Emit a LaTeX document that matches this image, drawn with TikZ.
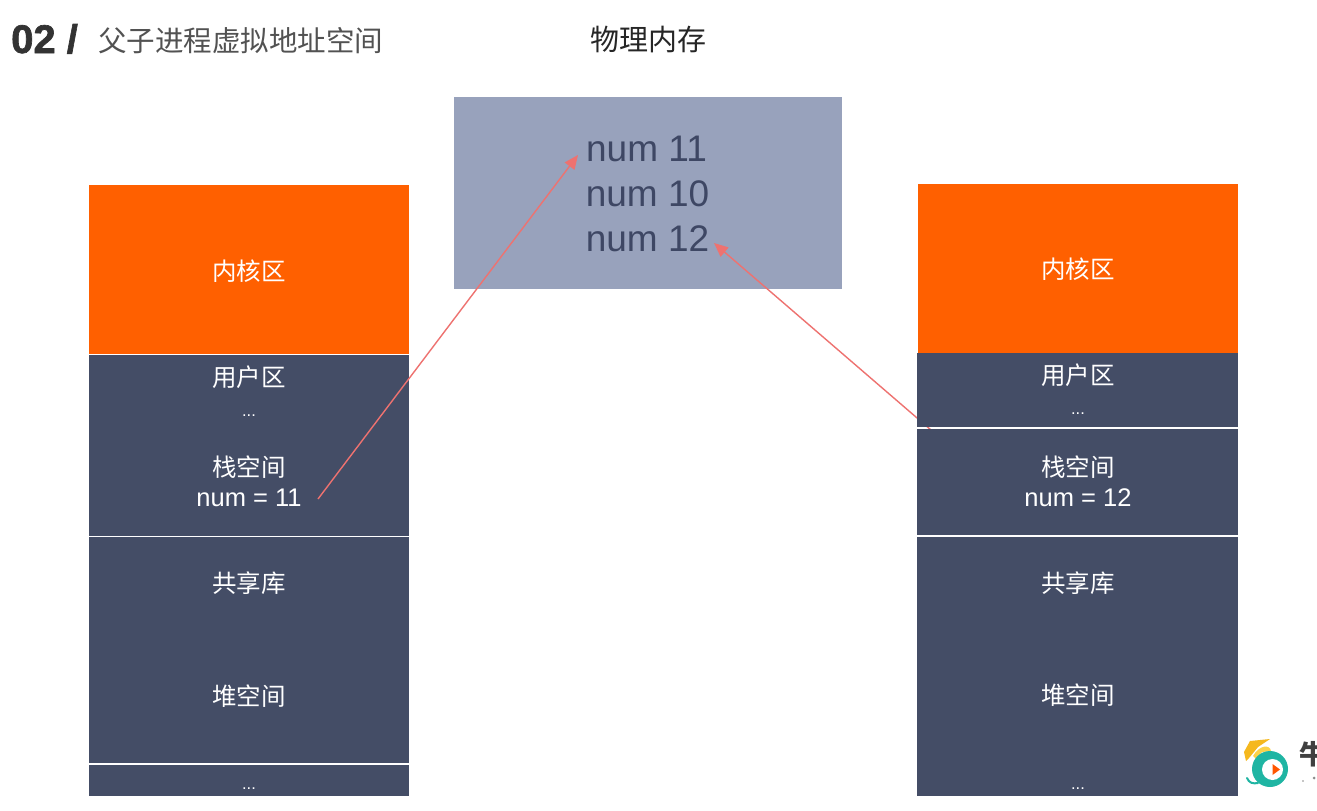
\documentclass[tikz,border=0pt]{standalone}
\usepackage{fontspec}
\setmainfont{Liberation Sans}
\newfontfamily\cjk{Noto Sans CJK SC}
\newfontfamily\headfont{Liberation Sans Bold}[FakeBold=1.6]
\usetikzlibrary{arrows.meta}
\definecolor{darkblock}{HTML}{444D66}
\definecolor{orangeblock}{HTML}{FF6000}
\definecolor{memblock}{HTML}{98A2BC}
\definecolor{memtext}{HTML}{3E4764}
\definecolor{arrowred}{HTML}{EE7270}
\definecolor{titletext}{HTML}{333333}
\definecolor{logoteal}{HTML}{1FB5A3}
\definecolor{logocap}{HTML}{F5B81E}
\definecolor{logocapb}{HTML}{FBD24A}
\tikzset{
  blockbox/.style={draw=none,inner sep=0pt,outer sep=0pt,anchor=north west},
  darkbox/.style={blockbox,fill=darkblock},
  orangebox/.style={blockbox,fill=orangeblock},
  memlabel/.style={text=memtext,font=\fontsize{37}{37}\selectfont,inner sep=0pt},
  zonelabel/.style={text=white,font=\fontsize{24.5}{24.5}\selectfont\cjk,inner sep=0pt},
  numlabel/.style={text=white,font=\fontsize{25.5}{25.5}\selectfont,inner sep=0pt},
  dotlabel/.style={text=white,font=\fontsize{16.5}{16.5}\selectfont,inner sep=0pt},
  redarrow/.style={draw=arrowred,line width=1.4pt,-{Triangle[length=14pt,width=12pt,fill=arrowred]}},
}
\begin{document}
\begin{tikzpicture}[x=1pt,y=-1pt]
\useasboundingbox (0,0) rectangle (1317,811);
\fill[white] (0,0) rectangle (1317,811);
% title
\node[anchor=base west,inner sep=0pt,text=titletext,font=\fontsize{40}{40}\selectfont\headfont] (num) at (11,53) {02 /};
\node[anchor=base west,inner sep=0pt,text=titletext!85,font=\fontsize{28.5}{28.5}\selectfont\cjk] (title) at (98,51) {父子进程虚拟地址空间};
\node[inner sep=0pt,text=black!85,font=\fontsize{29}{29}\selectfont\cjk] (memtitle) at (648,40) {物理内存};
% memory
\node[blockbox,fill=memblock,minimum width=388pt,minimum height=192pt] (mem) at (454,97) {};
\node[memlabel] (m11) at (646.5,149) {num 11};
\node[memlabel] (m10) at (647.5,194) {num 10};
\node[memlabel] (m12) at (647.5,239) {num 12};
% right arrow drawn under right column
\coordinate (rstart) at (931,430);
\coordinate (rend) at (714,243);
\draw[redarrow] (rstart) -- (rend);
% left column
\node[orangebox,minimum width=320pt,minimum height=168.5pt] (lk) at (89,185) {};
\node[darkbox,minimum width=320pt,minimum height=180.5pt] (lu) at (89,355) {};
\node[darkbox,minimum width=320pt,minimum height=226pt] (ls) at (89,537) {};
\node[darkbox,minimum width=320pt,minimum height=31pt] (ld) at (89,765) {};
% right column
\node[orangebox,minimum width=320pt,minimum height=170pt] (rk) at (918,184) {};
\node[darkbox,minimum width=321pt,minimum height=73.5pt] (ru) at (917,353) {};
\node[darkbox,minimum width=321pt,minimum height=106pt] (rs) at (917,429) {};
\node[darkbox,minimum width=321pt,minimum height=259pt] (rh) at (917,537) {};
% left labels
\node[zonelabel] (l1) at (249,271) {内核区};
\node[zonelabel] (l2) at (249,377) {用户区};
\node[dotlabel] (l3) at (249,416) {...};
\node[zonelabel] (l4) at (249,467) {栈空间};
\node[numlabel] (l5) at (249,498) {num = 11};
\node[zonelabel] (l6) at (249,583) {共享库};
\node[zonelabel] (l7) at (249,696) {堆空间};
\node[dotlabel] (l8) at (249,789) {...};
% right labels
\node[zonelabel] (r1) at (1078,269) {内核区};
\node[zonelabel] (r2) at (1078,375) {用户区};
\node[dotlabel] (r3) at (1078,414) {...};
\node[zonelabel] (r4) at (1078,467) {栈空间};
\node[numlabel] (r5) at (1078,498) {num = 12};
\node[zonelabel] (r6) at (1078,583) {共享库};
\node[zonelabel] (r7) at (1078,695) {堆空间};
\node[dotlabel] (r8) at (1078,789) {...};
% left arrow
\coordinate (lstart) at (318,499);
\coordinate (lend) at (578,155);
\draw[redarrow] (lstart) -- (lend);
% logo
\fill[logocap] (1244,752) -- (1250,741) -- (1270,739) -- (1258,747) -- (1249,758) -- (1246,761) -- cycle;
\fill[logocapb] (1253,756) .. controls (1259,745) and (1270,744) .. (1271,751) -- (1262,752) -- (1256,759) -- cycle;
\fill[logoteal] (1270,769) circle (18pt);
\draw[logoteal,line width=2pt,line cap=round] (1247,778) .. controls (1249,783) and (1253,784) .. (1258,783);
\fill[white] (1272.5,769.5) circle (10.5pt);
\fill[orangeblock!90!red] (1272.5,764) -- (1280,769.5) -- (1272.5,775) -- cycle;
\node[anchor=west,inner sep=0pt,text=black!75,font=\fontsize{27}{27}\selectfont\cjk\bfseries] (brand) at (1299,754) {牛};
\fill[black!45] (1303,781) circle (.8pt);
\fill[black!45] (1314,778) circle (1.5pt);
\end{tikzpicture}
\end{document}
